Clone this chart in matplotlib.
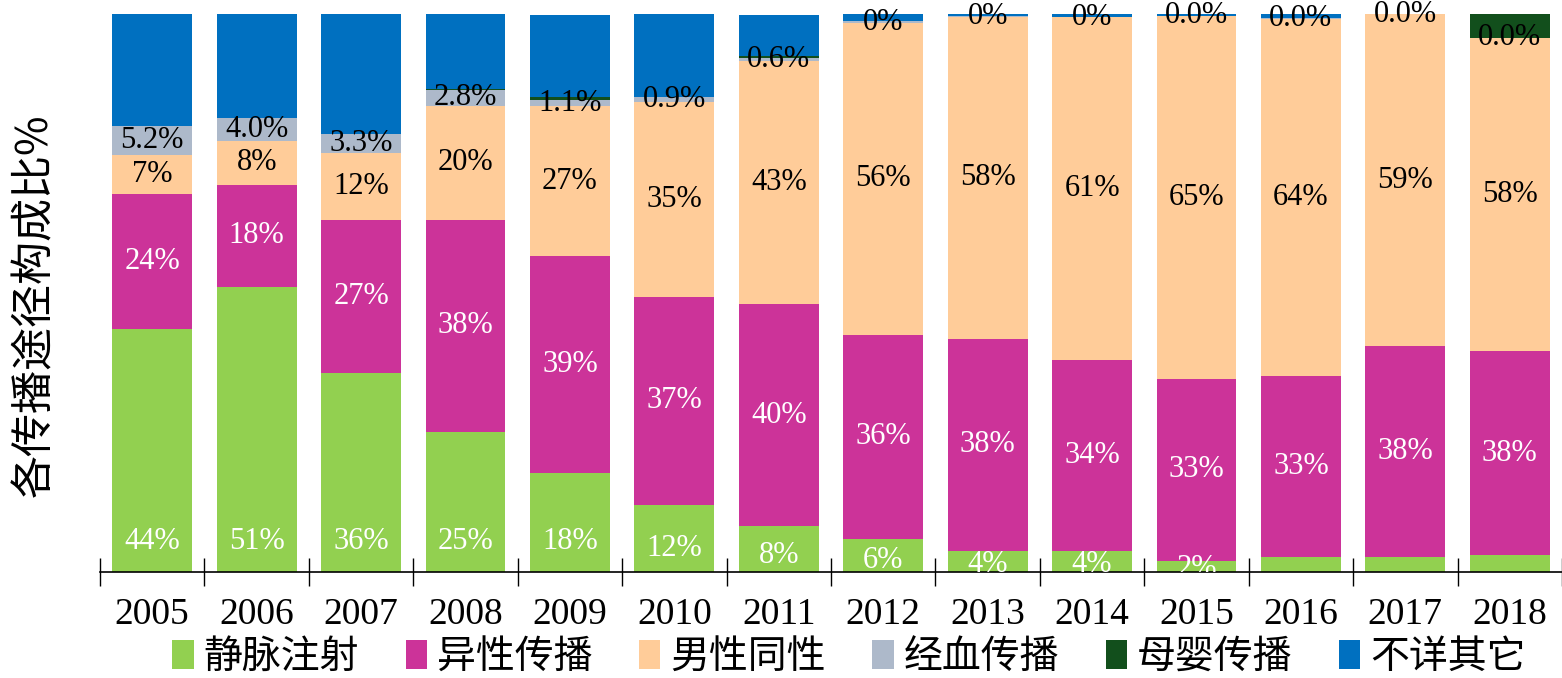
import matplotlib
matplotlib.use("Agg")
import matplotlib.pyplot as plt
import numpy as np
from matplotlib.patches import Patch

# 年份 和 各传播途径构成比 (%)
years = ["2005", "2006", "2007", "2008", "2009", "2010", "2011",
         "2012", "2013", "2014", "2015", "2016", "2017", "2018"]
series_names = ["静脉注射", "异性传播", "男性同性", "经血传播", "母婴传播", "不详其它"]

idu = [43.5, 51.1, 35.7, 25.1, 17.7, 12.0, 8.2, 5.9, 3.8, 3.8, 2.0, 2.7, 2.7, 3.0]
hetero = [24.2, 18.3, 27.4, 38.0, 38.9, 37.3, 39.8, 36.6, 38.0, 34.2, 32.6, 32.4, 37.8, 36.6]
msm = [7.0, 7.9, 12.0, 20.4, 26.9, 35.0, 43.6, 55.9, 57.7, 61.4, 65.0, 64.0, 59.5, 56.1]
blood = [5.2, 4.1, 3.4, 2.9, 1.1, 0.9, 0.6, 0.3, 0.1, 0.1, 0.1, 0.1, 0.0, 0.0]
mtct = [0.1, 0.0, 0.0, 0.2, 0.5, 0.0, 0.2, 0.0, 0.0, 0.0, 0.0, 0.0, 0.0, 4.3]
unknown = [20.0, 18.6, 21.5, 13.4, 14.8, 14.8, 7.4, 1.3, 0.4, 0.5, 0.3, 0.8, 0.0, 0.0]

# 标签文字 (图上原样)
idu_labels = ["44%", "51%", "36%", "25%", "18%", "12%", "8%", "6%", "4%", "4%", "2%", "", "", ""]
hetero_labels = ["24%", "18%", "27%", "38%", "39%", "37%", "40%", "36%", "38%", "34%", "33%", "33%", "38%", "38%"]
msm_labels = ["7%", "8%", "12%", "20%", "27%", "35%", "43%", "56%", "58%", "61%", "65%", "64%", "59%", "58%"]
blood_labels = ["5.2%", "4.0%", "3.3%", "2.8%", "1.1%", "0.9%", "0.6%", "0%", "0%", "0%",
                "0.0%", "0.0%", "0.0%", "0.0%"]

colors = ["#92D050", "#CC3399", "#FFCC99", "#ADB9CA", "#124F1C", "#0070C0"]

serif = "Liberation Serif"
cjk = ["Noto Sans CJK SC", "DejaVu Sans"]

fig = plt.figure(figsize=(15.62, 6.78), dpi=100)
ax = fig.add_axes([100 / 1562, 106 / 678, 1 - 100 / 1562, 558 / 678])

x = np.arange(len(years))
w = 0.766
data = [idu, hetero, msm, blood, mtct, unknown]
bottom = np.zeros(len(years))
bottoms = []
for vals, c in zip(data, colors):
    vals = np.array(vals)
    ax.bar(x, vals, w, bottom=bottom, color=c, edgecolor="none")
    bottoms.append(bottom.copy())
    bottom = bottom + vals

# 数据标签
for i in range(len(years)):
    v = idu[i]
    ax.text(x[i], min(0.35 * v, 5.5), idu_labels[i], ha="center", va="center",
            color="white", fontsize=22, family=serif, clip_on=True)
    ax.text(x[i], bottoms[1][i] + hetero[i] / 2, hetero_labels[i], ha="center", va="center",
            color="white", fontsize=22, family=serif)
    ax.text(x[i], bottoms[2][i] + msm[i] / 2, msm_labels[i], ha="center", va="center",
            color="black", fontsize=22, family=serif)
    ax.text(x[i], bottoms[3][i] + blood[i] / 2, blood_labels[i], ha="center", va="center",
            color="black", fontsize=22, family=serif)

ax.set_xlim(-0.5, len(years) - 0.5)
ax.set_ylim(0, 100)
ax.set_yticks([])
for s in ["top", "right", "left"]:
    ax.spines[s].set_visible(False)
ax.spines["bottom"].set_linewidth(1.2)

ax.set_xticks(x)
ax.set_xticklabels(years, family=serif, fontsize=27)
ax.tick_params(axis="x", which="major", length=0, pad=18)
ax.set_xticks(np.arange(-0.5, len(years) - 0.4, 1), minor=True)
ax.tick_params(axis="x", which="minor", direction="inout", length=20, width=1)

fig.text(35 / 1562, 1 - 305 / 678, "各传播途径构成比%", rotation=90, ha="center", va="center",
         fontsize=31, family=cjk)

handles = [Patch(facecolor=c, edgecolor="none") for c in colors]
fig.legend(handles, series_names, loc="center", bbox_to_anchor=(849 / 1562, 1 - 657 / 678),
           ncol=6, frameon=False, prop={"family": cjk, "size": 28},
           handlelength=0.55, handleheight=0.8, handletextpad=0.25, columnspacing=1.2)

fig.savefig("out.png", dpi=100)
